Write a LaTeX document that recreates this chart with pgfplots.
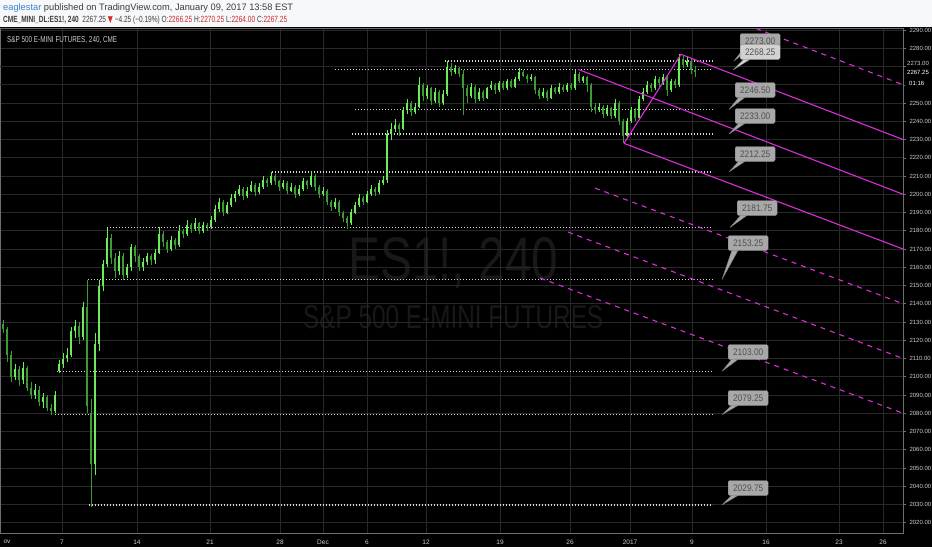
\documentclass[border=0pt]{standalone}
\usepackage{pgfplots}
\pgfplotsset{compat=1.18}
\usepackage{pgfplotstable}
\usepackage{graphicx}
\usepackage{fontspec}
\setmainfont{Liberation Sans}
\newfontfamily\symfont{DejaVu Sans}

\definecolor{headbg}{RGB}{247,248,250}
\definecolor{headtxt}{RGB}{60,60,60}
\definecolor{headblue}{RGB}{60,130,210}
\definecolor{hred}{RGB}{210,40,45}
\definecolor{gridc}{RGB}{40,40,40}
\definecolor{axline}{RGB}{110,110,110}
\definecolor{axtext}{RGB}{205,205,205}
\definecolor{wm}{RGB}{24,24,26}
\definecolor{upg}{RGB}{110,235,90}
\definecolor{dng}{RGB}{60,155,55}
\definecolor{pitch}{RGB}{220,45,220}
\definecolor{dotc}{RGB}{215,215,215}
\definecolor{cofill}{RGB}{168,168,168}
\definecolor{cofill2}{RGB}{210,210,210}
\definecolor{cobrd}{RGB}{125,125,125}
\definecolor{cotext}{RGB}{80,80,80}

% 4h candles (sampled), one row per bar: open high low close
\pgfplotstableread{
o h l c
2129 2131 2124 2126
2126 2127 2108 2112
2112 2114 2097 2100
2100 2107 2098 2104
2104 2106 2095 2098
2098 2108 2096 2105
2105 2106 2092 2094
2094 2097 2088 2090
2090 2096 2088 2093
2093 2095 2084 2086
2086 2091 2083 2089
2089 2090 2081 2083
2083 2085 2079.25 2081
2081 2092 2080 2090
2103 2109 2102 2107
2107 2113 2105 2110
2110 2116 2108 2112
2112 2127 2111 2125
2125 2131 2121 2128
2128 2130 2118 2122
2122 2141 2120 2138
2138 2153 2080 2084
2080 2088 2028.75 2052
2052 2124 2046 2118
2118 2153 2114 2150
2150 2164 2147 2162
2162 2181.75 2160 2176
2176 2178 2162 2165
2165 2168 2154 2158
2158 2169 2156 2166
2166 2168 2153.25 2156
2156 2162 2154 2160
2160 2173 2158 2171
2171 2172 2163 2166
2166 2167 2158 2160
2160 2165 2158 2163
2163 2168 2161 2166
2166 2167 2161 2164
2164 2170 2162 2168
2168 2182 2167 2178
2178 2180 2171 2174
2174 2175 2168 2170
2170 2177 2169 2175
2175 2176 2170 2172
2172 2183 2171 2180
2180 2181 2176 2178
2178 2186 2177 2183
2183 2184 2179 2181
2181 2187 2180 2184
2184 2185 2178 2180
2180 2185 2179 2183
2183 2184 2180 2182
2182 2188 2181 2186
2186 2194 2185 2192
2192 2198 2190 2196
2196 2197 2188 2190
2190 2196 2189 2194
2194 2200 2193 2198
2198 2202 2196 2200
2200 2205 2199 2203
2203 2204 2197 2199
2199 2204 2198 2202
2202 2207 2201 2205
2205 2206 2199 2201
2201 2206 2200 2204
2204 2210 2203 2208
2208 2209 2204 2206
2206 2212.25 2205 2210
2210 2211 2205 2207
2207 2208 2202 2204
2204 2208 2203 2206
2206 2207 2200 2202
2202 2206 2201 2204
2204 2205 2198 2200
2200 2205 2199 2203
2203 2209 2202 2207
2207 2208 2203 2205
2205 2212 2204 2210
2210 2211 2202 2204
2204 2205 2198 2200
2200 2204 2199 2202
2202 2203 2194 2196
2196 2197 2191 2193
2193 2198 2192 2196
2196 2197 2188 2190
2190 2191 2185 2187
2187 2188 2181 2184
2184 2192 2183 2190
2190 2196 2189 2194
2194 2200 2193 2198
2198 2199 2194 2196
2196 2202 2195 2200
2200 2205 2199 2203
2203 2204 2199 2201
2201 2208 2200 2206
2206 2210 2205 2208
2208 2235 2206 2233
2233 2239 2230 2236
2236 2241 2234 2238
2238 2239 2232 2236
2236 2248 2235 2246
2246 2252 2244 2250
2250 2251 2243 2245
2245 2250 2244 2248
2248 2264 2247 2260
2260 2261 2251 2254
2254 2260 2252 2258
2258 2259 2249 2251
2251 2258 2250 2256
2256 2257 2248 2250
2250 2257 2249 2255
2255 2273 2254 2270
2270 2272 2265 2267
2267 2271 2266 2269
2269 2270 2264 2266
2266 2268 2243.5 2258
2258 2260 2250 2254
2254 2261 2253 2259
2259 2260 2250 2252
2252 2258 2251 2256
2256 2257 2251 2253
2253 2259 2252 2258
2258 2262 2257 2260
2260 2261 2255 2257
2257 2262 2256 2261
2261 2262 2257 2258
2258 2263 2257 2262
2262 2263 2258 2259
2259 2264 2258 2263
2263 2269 2262 2267
2267 2268 2264 2265
2265 2266 2261 2263
2263 2266 2262 2264
2264 2265 2255 2257
2257 2258 2252 2254
2254 2258 2253 2256
2256 2257 2251 2253
2253 2260 2252 2258
2258 2259 2255 2256
2256 2261 2255 2259
2259 2260 2256 2257
2257 2261 2256 2260
2260 2261 2257 2258
2258 2268.25 2257 2266
2266 2267 2261 2262
2262 2265 2261 2264
2264 2265 2256 2260
2260 2261 2245 2248
2248 2250 2244 2246
2246 2250 2245 2248
2248 2249 2242 2244
2244 2249 2243 2247
2247 2248 2241 2243
2243 2252 2242 2250
2250 2251 2238 2240
2240 2241 2228 2232
2232 2242 2231 2240
2240 2248 2239 2246
2246 2247 2240 2242
2242 2254 2241 2252
2252 2258 2251 2256
2256 2262 2255 2260
2260 2261 2256 2258
2258 2265 2257 2263
2263 2264 2259 2261
2261 2266 2260 2264
2264 2265 2254 2257
2257 2263 2256 2262
2262 2263 2258 2260
2260 2277 2259 2274
2274 2276 2269 2271
2271 2275 2270 2273
2273 2274 2266 2268
2268 2270.25 2264 2267.25
}\candles

% #1 box left, #2 box centre y (from top), #3 text, #4 tip x, #5 tip y, #6 fill
\newcommand\callout[6]{%
  \filldraw[fill=#6, draw=cobrd, line width=0.4pt, line join=round]
    (#1+4,-#2-7) -- (#4,-#5) -- (#1+10,-#2-7.4) -- cycle;
  \node[fill=#6, draw=cobrd, line width=0.4pt, rounded corners=1.5pt,
    minimum width=40pt, minimum height=15pt, inner sep=0pt, anchor=west,
    text=cotext, font=\fontsize{9.5}{10}\selectfont] at (#1,-#2) {\scalebox{0.88}[1]{#3}};
}

\begin{document}
\begin{tikzpicture}[x=1pt,y=1pt]
\useasboundingbox (0,0) rectangle (932,-550);
\fill[headbg] (0,0) rectangle (932,-550);
\fill[black] (0,-27) rectangle (932,-547);

% header
\node[anchor=base west, inner sep=0, text=headtxt] at (3,-10) {\resizebox{290pt}{6.8pt}{{\color{headblue}eaglestar} published on TradingView.com, January 09, 2017 13:58 EST}};
\node[anchor=base west, inner sep=0, text=headtxt] at (3,-22.3) {\resizebox{284pt}{6.5pt}{\textbf{CME\_MINI\_DL:ES1!, 240}\ \ 2267.25 {\color{hred}\symfont ▼} −4.25 (−0.19\%) O:{\color{hred}2266.25} H:{\color{hred}2270.25} L:{\color{hred}2264.00} C:{\color{hred}2267.25}}};

% watermark
\node[anchor=base west, inner sep=0, text=wm] at (348,-280) {\resizebox{210pt}{43pt}{ES1!, 240}};
\node[anchor=base west, inner sep=0, text=wm] at (303,-328) {\resizebox{300pt}{23pt}{S\&P 500 E-MINI FUTURES}};

\begin{axis}[
  at={(0pt,-533pt)}, anchor=south west,
  scale only axis, width=903pt, height=505pt,
  xmin=0, xmax=903, ymin=2014.36, ymax=2291.1,
  axis line style={draw=axline, line width=0.8pt},
  xtick={62,137,210,280,323,367,426,500,570,630,692,766,839,883},
  xticklabels={7,14,21,28,Dec,6,12,19,26,2017,9,16,23,26},
  extra x ticks={7}, extra x tick labels={ov}, extra x tick style={grid=none},
  xtick style={draw=none},
  ytick={2020,2030,...,2250,2280,2290},
  extra y ticks={2260,2270}, extra y tick labels={},
  extra y tick style={grid=major},
  ytick pos=right, yticklabel pos=right,
  tick align=outside, major tick length=3pt,
  ytick style={draw=axline, line width=0.5pt},
  grid=major, major grid style={draw=gridc, line width=0.6pt},
  yticklabel style={font=\fontsize{6}{7}\selectfont, text=axtext,
    /pgf/number format/.cd, fixed, fixed zerofill, precision=2, 1000 sep={}, assume math mode=true},
  xticklabel style={font=\fontsize{6.5}{7}\selectfont, text=axtext},
]

% horizontal dotted levels
\addplot[dotc, line width=1.3pt, dash pattern=on 1.3pt off 1.7pt] coordinates {(445,2273) (713,2273)};
\addplot[dotc, line width=1.3pt, dash pattern=on 1.3pt off 1.7pt] coordinates {(335,2268.25) (713,2268.25)};
\addplot[dotc, line width=1.3pt, dash pattern=on 1.3pt off 1.7pt] coordinates {(355,2246.5) (713,2246.5)};
\addplot[dotc, line width=1.3pt, dash pattern=on 1.3pt off 1.7pt] coordinates {(352,2233) (713,2233)};
\addplot[dotc, line width=1.3pt, dash pattern=on 1.3pt off 1.7pt] coordinates {(272,2212.25) (713,2212.25)};
\addplot[dotc, line width=1.3pt, dash pattern=on 1.3pt off 1.7pt] coordinates {(107,2181.75) (713,2181.75)};
\addplot[dotc, line width=1.3pt, dash pattern=on 1.3pt off 1.7pt] coordinates {(88,2153.25) (713,2153.25)};
\addplot[dotc, line width=1.3pt, dash pattern=on 1.3pt off 1.7pt] coordinates {(57,2103) (713,2103)};
\addplot[dotc, line width=1.3pt, dash pattern=on 1.3pt off 1.7pt] coordinates {(55,2079.25) (713,2079.25)};
\addplot[dotc, line width=1.3pt, dash pattern=on 1.3pt off 1.7pt] coordinates {(89,2029.75) (713,2029.75)};

% candles: wicks then bodies
\addplot[draw=none, mark=none, forget plot, error bars/.cd, y dir=both, y explicit, error mark=none,
  error bar style={draw=upg, line width=0.7pt, solid}]
  table[x expr=3+4*\coordindex, y expr={\thisrow{c}>=\thisrow{o} ? (\thisrow{h}+\thisrow{l})/2 : nan},
        y error expr={(\thisrow{h}-\thisrow{l})/2}] {\candles};
\addplot[draw=none, mark=none, forget plot, error bars/.cd, y dir=both, y explicit, error mark=none,
  error bar style={draw=dng, line width=0.7pt, solid}]
  table[x expr=3+4*\coordindex, y expr={\thisrow{c}<\thisrow{o} ? (\thisrow{h}+\thisrow{l})/2 : nan},
        y error expr={(\thisrow{h}-\thisrow{l})/2}] {\candles};
\addplot[draw=none, mark=none, forget plot, error bars/.cd, y dir=both, y explicit, error mark=none,
  error bar style={draw=upg, line width=2.4pt, solid}]
  table[x expr=3+4*\coordindex, y expr={\thisrow{c}>=\thisrow{o} ? (\thisrow{o}+\thisrow{c})/2 : nan},
        y error expr={max(abs(\thisrow{c}-\thisrow{o})/2,0.35)}] {\candles};
\addplot[draw=none, mark=none, forget plot, error bars/.cd, y dir=both, y explicit, error mark=none,
  error bar style={draw=dng, line width=2.4pt, solid}]
  table[x expr=3+4*\coordindex, y expr={\thisrow{c}<\thisrow{o} ? (\thisrow{o}+\thisrow{c})/2 : nan},
        y error expr={max(abs(\thisrow{c}-\thisrow{o})/2,0.35)}] {\candles};

% pitchfork
\addplot[pitch, line width=1.1pt] coordinates {(578,2268.46) (903,2200)};
\addplot[pitch, line width=1.1pt] coordinates {(681,2276.7) (903,2230)};
\addplot[pitch, line width=1.1pt] coordinates {(624,2227.9) (903,2170)};
\addplot[pitch, line width=1.1pt] coordinates {(624,2227.9) (681,2276.7)};
\addplot[pitch, line width=1.1pt, dash pattern=on 5pt off 5pt] coordinates {(700,2302.6) (903,2260)};
\addplot[pitch, line width=1.1pt, dash pattern=on 5pt off 5pt] coordinates {(595,2203.4) (903,2140)};
\addplot[pitch, line width=1.1pt, dash pattern=on 5pt off 5pt] coordinates {(568,2179.3) (903,2110)};
\addplot[pitch, line width=1.1pt, dash pattern=on 5pt off 5pt] coordinates {(540,2154.1) (903,2080)};
\end{axis}

% chart title and price-scale extras
\node[anchor=base west, inner sep=0, text=axtext] at (7,-42.5) {\resizebox{110pt}{6pt}{S\&P 500 E-MINI FUTURES, 240, CME}};
\node[text=axtext, font=\fontsize{6}{7}\selectfont, anchor=west, inner sep=0] at (907,-63.5) {2273.00};
\fill[black] (905,-67) rectangle (932,-89);
\node[text=white, font=\fontsize{6}{7}\selectfont, anchor=west, inner sep=0] at (907,-72) {2267.25};
\node[text=white, font=\fontsize{6}{7}\selectfont, anchor=west, inner sep=0] at (909,-83) {01:16};

% price callouts
\callout{740}{41}{2273.00}{734}{61}{cofill}
\callout{740}{52}{2268.25}{733}{70}{cofill2}
\callout{735}{90}{2246.50}{729}{109.4}{cofill}
\callout{735}{116}{2233.00}{729}{134}{cofill}
\callout{735}{154}{2212.25}{729}{171.9}{cofill}
\callout{737}{208}{2181.75}{730}{227.5}{cofill}
\callout{728}{243}{2153.25}{722}{279.5}{cofill}
\callout{728}{352}{2103.00}{722}{371.2}{cofill}
\callout{728}{398}{2079.25}{722}{414.6}{cofill}
\callout{728}{488}{2029.75}{722}{504.9}{cofill}
\end{tikzpicture}
\end{document}
